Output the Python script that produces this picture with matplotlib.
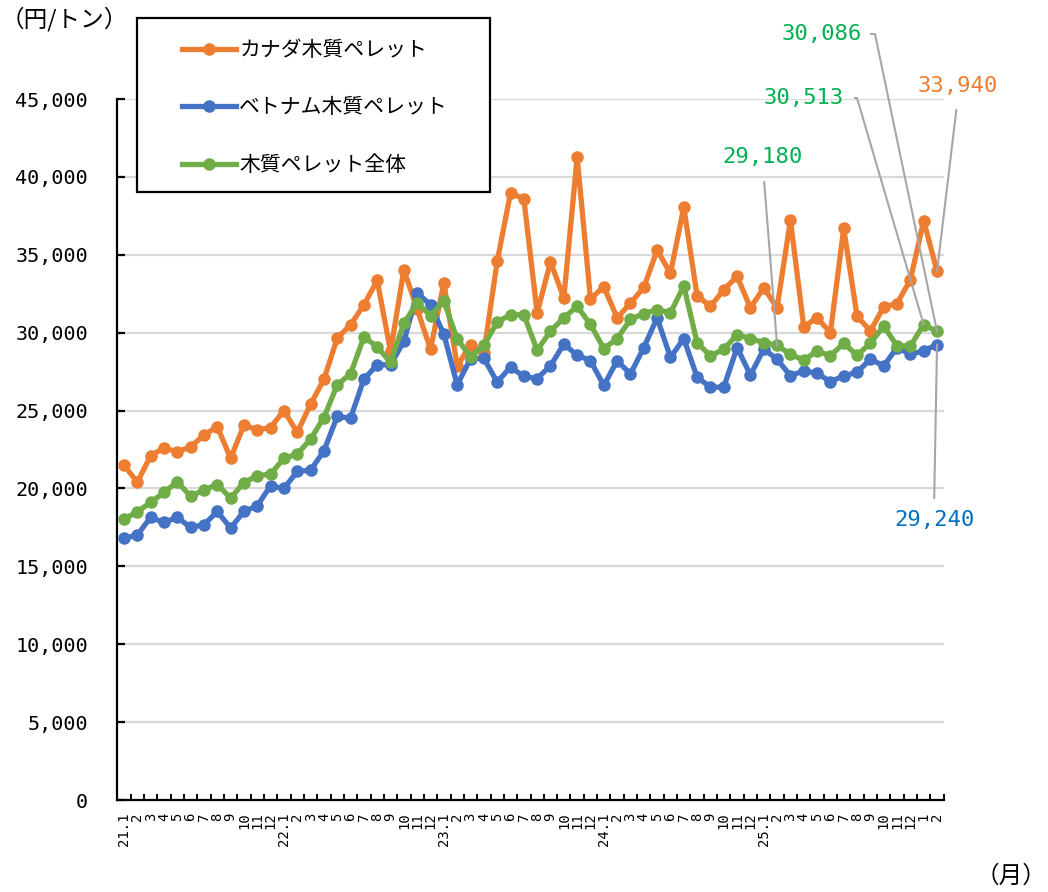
import matplotlib
matplotlib.use("Agg")
import matplotlib.pyplot as plt
from matplotlib.patches import Rectangle
from matplotlib.ticker import FuncFormatter, MultipleLocator

plt.rcParams["font.family"] = ["Noto Sans CJK JP", "DejaVu Sans"]
NUM_FONT = ["DejaVu Sans Mono", "Noto Sans CJK JP"]

# monthly import prices, 2021.1 - 2026.2 (yen / ton)
years = ["21", "22", "23", "24", "25"]
month_labels = []
for y in years:
    month_labels += [f"{y}.1"] + [str(m) for m in range(2, 13)]
month_labels += ["1", "2"]

canada = [21500, 20400, 22100, 22600, 22350, 22670, 23420, 23970, 21940, 24060, 23760, 23910,
          25000, 23600, 25400, 27000, 29650, 30500, 31790, 33350, 28800, 34040, 31500, 28930,
          33190, 27850, 29220, 28690, 34570, 38960, 38600, 31260, 34550, 32220, 41270, 32160,
          32960, 30950, 31900, 32900, 35300, 33810, 38050, 32370, 31690, 32750, 33610, 31600,
          32870, 31600, 37230, 30380, 30960, 30000, 36700, 31060, 30110, 31660, 31870, 33400,
          37190, 33940]
vietnam = [16790, 17010, 18140, 17820, 18140, 17500, 17670, 18520, 17460, 18520, 18890, 20170,
           20000, 21090, 21170, 22410, 24620, 24510, 27020, 27940, 27940, 29440, 32540, 31790,
           29900, 26650, 28330, 28350, 26830, 27790, 27190, 27050, 27880, 29260, 28560, 28200,
           26610, 28200, 27350, 29040, 30950, 28410, 29620, 27140, 26500, 26500, 29040, 27280,
           28940, 28300, 27230, 27550, 27400, 26850, 27230, 27450, 28300, 27870, 29040, 28620,
           28830, 29240]
overall = [18030, 18500, 19100, 19740, 20430, 19490, 19910, 20250, 19380, 20380, 20810, 20920,
           21940, 22200, 23160, 24550, 26650, 27360, 29720, 29100, 28090, 30620, 31900, 31100,
           32010, 29600, 28450, 29180, 30680, 31150, 31150, 28870, 30100, 30950, 31690, 30530,
           28980, 29620, 30850, 31230, 31480, 31270, 33010, 29360, 28510, 28940, 29870, 29620,
           29360, 29180, 28620, 28230, 28830, 28510, 29320, 28550, 29320, 30420, 29150, 29150,
           30513, 30086]

series_names = ["カナダ木質ペレット", "ベトナム木質ペレット", "木質ペレット全体"]
series_colors = ["#ED7D31", "#4472C4", "#70AD47"]

W, H = 1048, 892
fig = plt.figure(figsize=(W / 100, H / 100), dpi=100)
ax = fig.add_axes([117.3 / W, 1 - 800 / H, (943.7 - 117.3) / W, (800 - 99) / H])

x = list(range(len(month_labels)))
lines = []
for vals, name, col in zip([canada, vietnam, overall], series_names, series_colors):
    ln, = ax.plot(x, vals, color=col, lw=3.8, marker="o", ms=8, label=name,
                  solid_joinstyle="round", zorder=3)
    lines.append(ln)

ax.set_xlim(-0.5, len(x) - 0.5)
ax.set_ylim(0, 45000)
ax.yaxis.set_major_locator(MultipleLocator(5000))
ax.yaxis.set_major_formatter(FuncFormatter(lambda v, p: f"{int(v):,}"))
ax.grid(axis="y", color="#d9d9d9", lw=1.6, zorder=0)
ax.set_axisbelow(True)

ax.set_xticks(x)
ax.set_xticklabels(month_labels, rotation=90, family=NUM_FONT, fontsize=10)
ax.set_xticks([i - 0.5 for i in range(len(x) + 1)], minor=True)
ax.tick_params(axis="x", which="major", length=0, pad=9)
ax.tick_params(axis="x", which="minor", direction="in", length=4, width=1.4)
ax.tick_params(axis="y", direction="in", length=6, width=1.6, pad=21)
for t in ax.get_yticklabels():
    t.set_family(NUM_FONT)
    t.set_fontsize(14.5)

for s in ["top", "right"]:
    ax.spines[s].set_visible(False)
for s in ["left", "bottom"]:
    ax.spines[s].set_color("black")
    ax.spines[s].set_linewidth(1.6)

# unit labels
fig.text(1 / W, 1 - 19 / H, "（円/トン）", fontsize=17, ha="left", va="center")
fig.text(1046 / W, 1 - 876 / H, "（月）", fontsize=17, ha="right", va="center")

# legend box
fig.add_artist(Rectangle((137 / W, 1 - 192 / H), 353 / W, 174 / H, transform=fig.transFigure,
                         facecolor="white", edgecolor="black", lw=1.6, zorder=4))
fig.legend(handles=lines, loc="upper left", bbox_to_anchor=(182 / W, 1 - 39 / H),
           frameon=False, fontsize=15, borderpad=0, borderaxespad=0, handlelength=2.6,
           handletextpad=0.15, labelspacing=1.7, numpoints=1).set_zorder(5)


def leader(idx, val, text, color, pos, ha, relpos, shrink, conn="arc3,rad=0"):
    ax.annotate(text, xy=(idx, val), xycoords="data", xytext=pos, textcoords="figure pixels",
                ha=ha, va="center", color=color, fontsize=16, family=NUM_FONT,
                annotation_clip=False, zorder=6,
                arrowprops=dict(arrowstyle="-", color="#a6a6a6", lw=1.5, shrinkA=shrink,
                                shrinkB=0, relpos=relpos, connectionstyle=conn))


last = len(x) - 1
elbow = "arc,angleA=0,armA=13,angleB=0,armB=0,rad=0"
leader(last, overall[last], f"{overall[last]:,}", "#00B050", (862, H - 34), "right", (1, 0.5), 4.3, elbow)
leader(last - 1, overall[last - 1], f"{overall[last - 1]:,}", "#00B050", (844, H - 98), "right", (1, 0.5), 5.8, elbow)
leader(last, canada[last], f"{canada[last]:,}", "#ED7D31", (958, H - 86), "center", (0.5, 0), 8)
leader(49, overall[49], f"{overall[49]:,}", "#00B050", (763, H - 157), "center", (0.5, 0), 8.6)
leader(last, vietnam[last], f"{vietnam[last]:,}", "#0070C0", (934, H - 520), "center", (0.5, 1), 6.5)

fig.savefig("out.png", dpi=100, facecolor="white")
